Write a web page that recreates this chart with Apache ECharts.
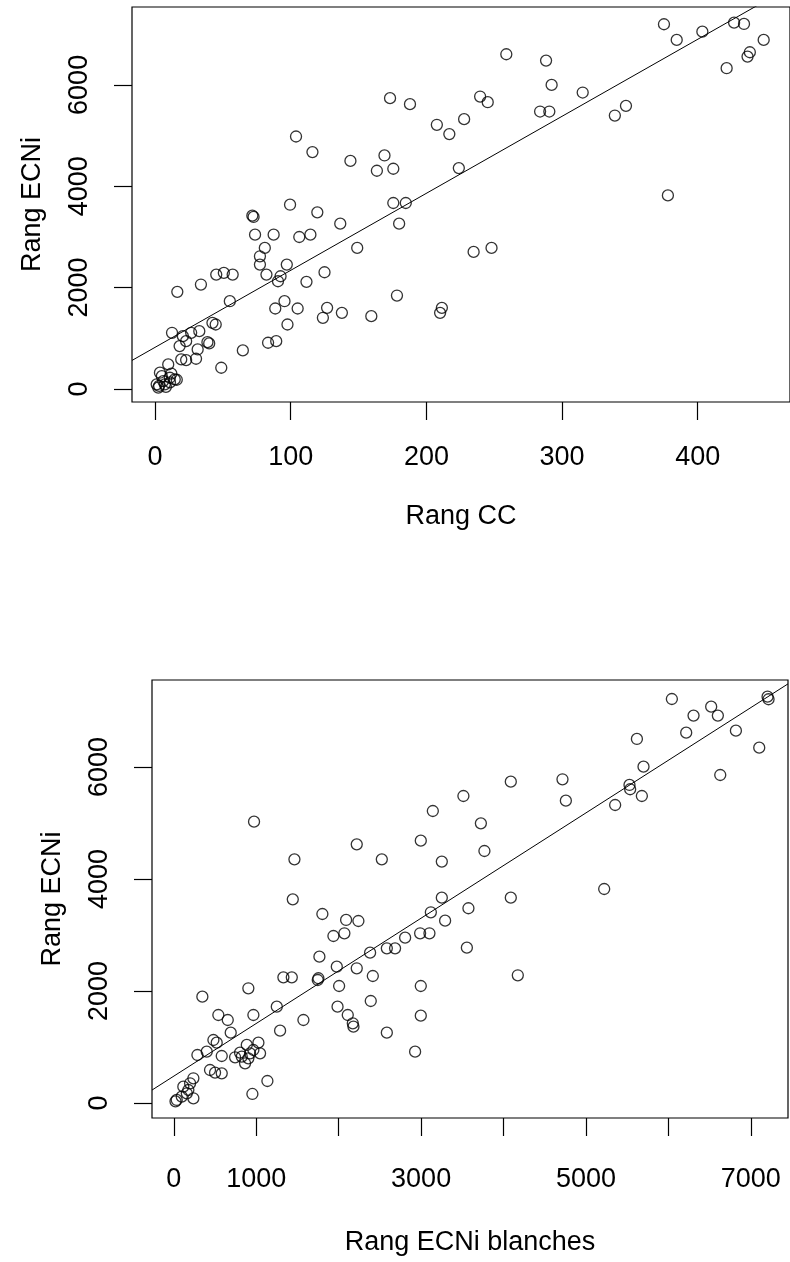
<!DOCTYPE html>
<html>
<head>
<meta charset="utf-8">
<script src="https://cdn.jsdelivr.net/npm/echarts@6/dist/echarts.min.js"></script>
<style>
html,body{margin:0;padding:0;background:#fff;}
#c{width:790px;height:1262px;}
</style>
</head>
<body>
<div id="c"></div>
<script>
// ---- Data: top panel (Rang CC vs Rang ECNi) ----
const rangCC = [103.9,116,144,99.5,119.6,136.5,71.7,72.6,73.7,87.4,106.3,114.5,80.9,77.3,77.3,82.1,97.1,92.5,90.6,111.6,124.9,16.4,33.8,45.1,50.7,57.2,55.1,88.6,95.4,105.1,97.6,126.8,123.7,137.7,83.3,89.3,64.7,48.8,12.5,42.3,44.7,39.9,38.6,20.5,26.6,22.9,18.1,32.6,31.4,19.3,22.9,30.2,
  9.7,3.6,14.5,1.2,6,10.9,2.4,7.2,5,12,8,3,11,16,
  258.9,288.2,292.3,315.2,283.8,290.6,173.2,187.9,239.6,245.2,207.7,216.9,227.8,169.1,163.5,175.6,223.9,
  175.6,184.8,179.9,149.0,234.8,248,159.4,178.3,210.1,211.4,
  375.1,384.5,403.4,426.8,434.1,448.6,438.4,436.7,421.3,338.9,347.1,378];
const ecniTop = [4981,4674,4500,3635,3484,3261,3419,3393,3044,3044,2998,3044,2782,2617,2453,2256,2453,2223,2124,2112,2302,1915,2059,2256,2289,2256,1730,1586,1730,1586,1271,1600,1403,1501,910,942,759,417,1107,1304,1271,897,922,1041,1107,942,844,1139,778,581,568,595,
  483,319,187,89,154,220,24,89,250,300,40,60,130,180,
  6604,6479,6000,5849,5474,5474,5738,5619,5770,5658,5212,5028,5324,4607,4305,4345,4358,
  3669,3669,3261,2782,2703,2782,1435,1842,1501,1600,
  7197,6887,7050,7228,7202,6887,6644,6558,6329,5395,5586,3819];
// regression line: [intercept, slope]
const lineTop = [820, 15.2];

// ---- Data: bottom panel (Rang ECNi blanches vs Rang ECNi) ----
const rangBlanches = [973,1463,2219,2523,
  1443,1802,2090,2239,1936,2069,2381,2584,2684,1766,1977,2219,2414,1754,1746,2005,2389,1986,2110,2171,2179,2584,1329,1431,904,346,1249,1572,1289,965,540,654,690,480,520,286,399,581,743,885,1026,803,925,864,1046,824,965,904,439,500,581,1135,953,237,115,176,237,35,20,96,157,197,
  4088,4715,4756,3513,3142,3725,2996,3768,3251,3251,4088,3118,3574,3291,2988,3101,2806,3555,4173,2996,2996,2927,
  6042,6305,6519,6600,6216,6819,7102,7203,7215,5618,5698,5528,5536,5678,5354,6629,5221];
const ecniBottom = [5024,4351,4619,4351,
  3637,3375,3268,3250,2982,3030,2684,2762,2762,2613,2434,2405,2268,2227,2196,2089,1821,1720,1571,1423,1363,1256,2244,2244,2048,1899,1720,1482,1291,1571,1571,1482,1256,1125,1077,857,917,839,816,1036,1077,899,887,709,887,827,946,798,589,541,530,393,161,441,291,232,84,54,30,113,173,352,
  5738,5780,5399,5482,5214,4994,4684,4500,4310,3666,3666,3405,3477,3256,3030,3030,2952,2774,2280,2089,1560,917,
  7214,6917,7077,6917,6613,6649,6345,7256,7209,6500,6006,5679,5602,5482,5321,5857,3821];
const lineBottom = [480, 0.94];

// ---- Tick values ----
const ccTicks = [0,100,200,300,400];
const ecniTicks = [0,2000,4000,6000];
const blanchesTicks = [0,1000,2000,3000,4000,5000,6000,7000];
const blanchesLabels = [0,1000,3000,5000,7000];

// axis ranges (R-style 4% extension)
const topX = [-17, 468], topY = [-259, 7537];
const botX = [-265, 7451], botY = [-268, 7553];

const FONT = 'Liberation Sans, Arial, sans-serif';
const txt = {color:'#000', fontSize:27, fontFamily:FONT};
const plain = v => String(v);

function zip(a,b){return a.map((v,i)=>[v,b[i]]);}
function lineData(coef, range){return [[range[0], coef[0]+coef[1]*range[0]],[range[1], coef[0]+coef[1]*range[1]]];}

function xAx(grid, range, ticks, labels, name, margin, gap){
  return {gridIndex:grid, type:'value', min:range[0], max:range[1],
    splitLine:{show:false},
    axisLine:{show:false, onZero:false},
    axisTick:{show:true, inside:false, length:18, customValues:ticks, lineStyle:{color:'#000', width:1.2}},
    axisLabel:{show:true, customValues:labels, margin:margin, formatter:plain, ...txt},
    name:name, nameLocation:'middle', nameGap:gap, nameTextStyle:{...txt}};
}
function yAx(grid, range, ticks, name, margin, gap){
  return {gridIndex:grid, type:'value', min:range[0], max:range[1],
    splitLine:{show:false},
    axisLine:{show:false, onZero:false},
    axisTick:{show:true, inside:false, length:18, customValues:ticks, lineStyle:{color:'#000', width:1.2}},
    axisLabel:{show:true, customValues:ticks, rotate:90, margin:margin, formatter:plain, ...txt},
    name:name, nameLocation:'middle', nameGap:gap, nameRotate:90, nameTextStyle:{...txt}};
}
const pointStyle = {color:'rgba(0,0,0,0)', borderColor:'#000', borderWidth:1.3};

const chart = echarts.init(document.getElementById('c'), null, {renderer:'canvas'});
chart.setOption({
  animation:false,
  backgroundColor:'#fff',
  grid:[
    {left:132, top:7, width:669, height:395, show:true, borderColor:'#000', borderWidth:1.2, backgroundColor:'transparent'},
    {left:152, top:680, width:636, height:438, show:true, borderColor:'#000', borderWidth:1.2, backgroundColor:'transparent'}
  ],
  xAxis:[
    xAx(0, topX, ccTicks, ccTicks, 'Rang CC', 42, 101),
    xAx(1, botX, blanchesTicks, blanchesLabels, 'Rang ECNi blanches', 48, 111)
  ],
  yAxis:[
    yAx(0, topY, ecniTicks, 'Rang ECNi', 39, 86),
    yAx(1, botY, ecniTicks, 'Rang ECNi', 39, 86)
  ],
  series:[
    {type:'scatter', xAxisIndex:0, yAxisIndex:0, data:zip(rangCC, ecniTop), symbol:'circle', symbolSize:11, itemStyle:pointStyle, silent:true},
    {type:'line', xAxisIndex:0, yAxisIndex:0, data:lineData(lineTop, topX), symbol:'none', clip:true, lineStyle:{color:'#000', width:1}, silent:true},
    {type:'scatter', xAxisIndex:1, yAxisIndex:1, data:zip(rangBlanches, ecniBottom), symbol:'circle', symbolSize:11, itemStyle:pointStyle, silent:true},
    {type:'line', xAxisIndex:1, yAxisIndex:1, data:lineData(lineBottom, botX), symbol:'none', clip:true, lineStyle:{color:'#000', width:1}, silent:true}
  ]
});
</script>
</body>
</html>
